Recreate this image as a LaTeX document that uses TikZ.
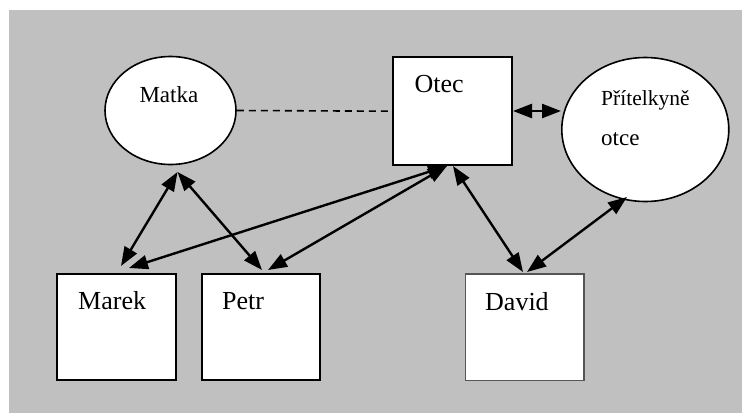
\documentclass[tikz,border=0pt]{standalone}
\usepackage{fontspec}
\setmainfont{Liberation Serif}
\usetikzlibrary{arrows.meta,shapes.geometric}
\definecolor{bggray}{RGB}{192,192,192}
\definecolor{boxedge}{RGB}{85,85,85}
\tikzset{
  person/.style={draw=black,fill=white,line width=2pt,rectangle,inner sep=0pt},
  oval/.style={draw=black,fill=white,line width=1.6pt,ellipse,inner sep=0pt},
  lbl/.style={anchor=base west,inner sep=0pt,font=\fontsize{26}{30}\selectfont},
  slbl/.style={anchor=base west,inner sep=0pt,font=\fontsize{22}{26}\selectfont},
  rel/.style={line width=2.4pt,{Triangle[length=19pt,width=14pt]}-{Triangle[length=19pt,width=14pt]}},
  link/.style={line width=1.6pt,dash pattern=on 7pt off 5pt}
}
\begin{document}
\begin{tikzpicture}[x=1pt,y=-1pt]
\useasboundingbox (0,0) rectangle (742,413);
\fill[bggray] (9,10) rectangle (742,413);
% nodes
\node[oval,minimum width=131pt,minimum height=108pt] (matka) at (170.5,110.5) {};
\node[oval,minimum width=167pt,minimum height=144pt] (pritel) at (645.3,129.5) {};
\node[person,minimum width=119pt,minimum height=107.7pt] (otec) at (452.8,111.2) {};
\node[person,minimum width=118.7pt,minimum height=106pt] (marek) at (116.7,327) {};
\node[person,minimum width=118.3pt,minimum height=106pt] (petr) at (260.9,327) {};
\node[person,draw=boxedge,line width=1.3pt,minimum width=118.3pt,minimum height=106.5pt] (david) at (524.9,327.3) {};
% labels
\node[slbl,font=\fontsize{23}{27}\selectfont] (tmatka) at (139.3,102.7) {Matka};
\node[lbl] (totec) at (414.3,92.7) {Otec};
\node[slbl,font=\fontsize{21.5}{26}\selectfont] (tpritel1) at (601,105) {Přítelkyně};
\node[slbl,font=\fontsize{23}{26}\selectfont] (tpritel2) at (601,145) {otce};
\node[lbl] (tmarek) at (78,309) {Marek};
\node[lbl] (tpetr) at (222,309) {Petr};
\node[lbl] (tdavid) at (485,310) {David};
% anchor points
\coordinate (mB) at (177.5,172);
\coordinate (oB1) at (447,166);
\coordinate (oB2) at (453,166);
\coordinate (oR) at (513,111);
\coordinate (prL) at (561,111);
\coordinate (mkT1) at (121,266);
\coordinate (mkT2) at (129,268);
\coordinate (pT1) at (262,270);
\coordinate (pT2) at (268,270);
\coordinate (dT1) at (523,272);
\coordinate (dT2) at (527,272);
\coordinate (pB) at (627,197);
% connectors
\draw[link] (matka.east) -- (otec.west);
\draw[rel] (oR) -- (prL);
\draw[rel] (mB) -- (mkT1);
\draw[rel] (mB) -- (pT1);
\draw[rel] (oB1) -- (mkT2);
\draw[rel] (oB1) -- (pT2);
\draw[rel] (oB2) -- (dT1);
\draw[rel] (pB) -- (dT2);
\end{tikzpicture}
\end{document}
